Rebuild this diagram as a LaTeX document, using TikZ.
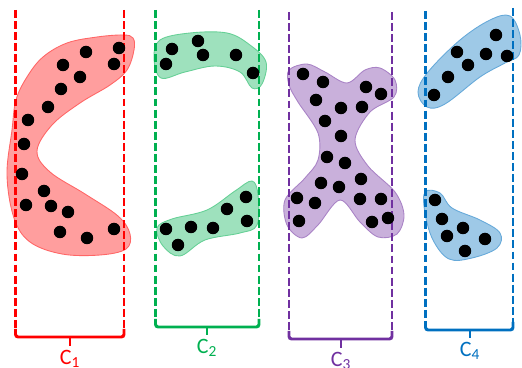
\documentclass[tikz,border=0pt]{standalone}
\usepackage{fontspec}
\setmainfont{Carlito}
\usetikzlibrary{calc}
\definecolor{cred}{HTML}{FF0000}
\definecolor{cgreen}{HTML}{00B050}
\definecolor{cpurple}{HTML}{7030A0}
\definecolor{cblue}{HTML}{0070C0}
\tikzset{
  blob/.style={draw=#1!60, fill=#1!38, line width=0.5pt},
  bound/.style={draw=#1, line width=1.6pt, dash pattern=on 4.5pt off 1.8pt},
  brack/.style={draw=#1, line width=1.7pt, rounded corners=1.5pt},
  lab/.style={text=#1, font=\fontsize{12.5}{14}\selectfont, inner sep=0pt, anchor=north},
  datapt/.style={fill=black},
}

\begin{document}
\begin{tikzpicture}[x=0.02cm, y=-0.02cm]
  \useasboundingbox (0,0) rectangle (522,368);

  % clusters
  \draw[blob=cred] plot[smooth cycle, tension=0.6] coordinates {
    (27,77) (43,57) (67,43) (97,37) (123,35) (133,38) (134,50) (127,70)
    (110,85) (80,103) (52,125) (37,151) (50,172) (85,194) (118,216)
    (130,234) (126,249) (100,255) (62,254) (30,242) (14,218) (7,175) (12,130) (16,100)};
  \draw[blob=cgreen] plot[smooth cycle, tension=0.6] coordinates {
    (154,58) (160,40) (190,33) (227,33) (250,45) (266,62) (262,84) (252,88)
    (240,72) (215,66) (185,72) (161,78)};
  \draw[blob=cgreen] plot[smooth cycle, tension=0.6] coordinates {
    (157,228) (172,219) (207,210) (235,191) (252,181) (258,195) (257,225)
    (240,233) (205,240) (180,256) (163,246)};
  \draw[blob=cpurple] plot[smooth cycle, tension=0.55] coordinates {
    (289,70) (307,64) (325,72) (347,83) (365,70) (380,68) (395,80) (394,97)
    (370,112) (355,140) (368,166) (395,192) (404,215) (397,234) (378,237)
    (360,222) (340,200) (318,225) (302,238) (287,225) (285,200) (305,178)
    (318,160) (318,133) (298,102) (289,85)};
  \draw[blob=cblue] plot[smooth cycle, tension=0.6] coordinates {
    (418,92) (428,72) (460,40) (490,20) (510,16) (520,35) (519,55) (505,63)
    (480,77) (445,104) (427,107)};
  \draw[blob=cblue] plot[smooth cycle, tension=0.6] coordinates {
    (425,192) (440,193) (452,208) (480,220) (500,233) (497,248) (472,258)
    (449,259) (433,240) (425,213)};

  % boundaries
  \coordinate (r1) at (15.5,337); \coordinate (r2) at (124,337);
  \coordinate (g1) at (155.5,327); \coordinate (g2) at (259,327);
  \coordinate (p1) at (289,339); \coordinate (p2) at (392,339);
  \coordinate (b1) at (425.5,330); \coordinate (b2) at (513,330);

  \draw[bound=cred] (15.5,10) -- ($(r1)+(0,-8)$);
  \draw[bound=cred] (124,10) -- ($(r2)+(0,-8)$);
  \draw[bound=cgreen] (155.5,10) -- ($(g1)+(0,-8)$);
  \draw[bound=cgreen] (259,10) -- ($(g2)+(0,-8)$);
  \draw[bound=cpurple] (289,12) -- ($(p1)+(0,-8)$);
  \draw[bound=cpurple] (392,12) -- ($(p2)+(0,-8)$);
  \draw[bound=cblue] (425.5,11) -- ($(b1)+(0,-8)$);
  \draw[bound=cblue] (513,8) -- ($(b2)+(0,-8)$);

  % points
  \foreach \x/\y in {86/52, 119/48, 63/65, 114/64, 80/77, 61/89, 48/107, 28/120,
      24/144, 22/174, 44/191, 26/205, 51/206, 68/212, 60/232, 87/238, 114/229,
      172/49, 198/41, 166/64, 203/55, 236/55, 253/73,
      246/197, 227/209, 247/221, 166/229, 191/227, 213/228, 178/245,
      303/74, 323/82, 366/87, 381/94, 316/100, 341/108, 362/107, 325/121,
      341/136, 327/157, 345/163, 321/183, 339/187, 361/179, 297/198, 315/203,
      360/199, 381/199, 299/221, 372/222, 388/218,
      496/35, 457/52, 486/54, 507/56, 468/65, 448/77, 434/95,
      435/200, 442/219, 463/228, 447/236, 485/239, 465/251}
    \fill[datapt] (\x,\y) circle[radius=0.125cm];

  % brackets and labels
  \draw[brack=cred] ($(r1)+(0,-8)$) -- (r1) -- (r2) -- ($(r2)+(0,-8)$);
  \draw[brack=cred] (70,337) -- (70,346) coordinate (s1);
  \node[lab=cred] (l1) at ($(s1)+(0,4)$) {C\textsubscript{1}};
  \draw[brack=cgreen] ($(g1)+(0,-8)$) -- (g1) -- (g2) -- ($(g2)+(0,-8)$);
  \draw[brack=cgreen] (207,327) -- (207,335) coordinate (s2);
  \node[lab=cgreen] (l2) at ($(s2)+(0,4)$) {C\textsubscript{2}};
  \draw[brack=cpurple] ($(p1)+(0,-8)$) -- (p1) -- (p2) -- ($(p2)+(0,-8)$);
  \draw[brack=cpurple] (341,339) -- (341,348) coordinate (s3);
  \node[lab=cpurple] (l3) at ($(s3)+(0,4)$) {C\textsubscript{3}};
  \draw[brack=cblue] ($(b1)+(0,-8)$) -- (b1) -- (b2) -- ($(b2)+(0,-8)$);
  \draw[brack=cblue] (470,330) -- (470,338) coordinate (s4);
  \node[lab=cblue] (l4) at ($(s4)+(0,4)$) {C\textsubscript{4}};
\end{tikzpicture}
\end{document}
